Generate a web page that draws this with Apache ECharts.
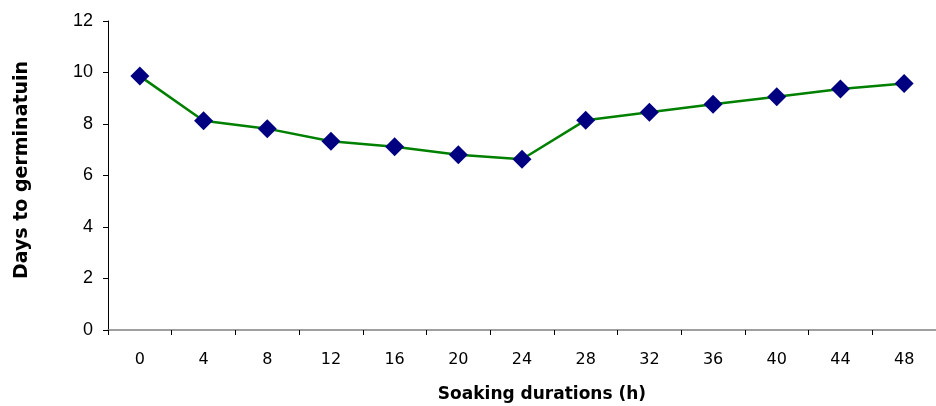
<!DOCTYPE html>
<html><head><meta charset="utf-8">
<script src="https://cdn.jsdelivr.net/npm/echarts@6/dist/echarts.min.js"></script>
<style>html,body{margin:0;padding:0;background:#fff}#c{width:936px;height:406px}</style>
</head><body><div id="c"></div>
<script>
const categories = ['0','4','8','12','16','20','24','28','32','36','40','44','48'];
const daysToGermination = [9.86, 8.13, 7.82, 7.33, 7.12, 6.81, 6.63, 8.15, 8.46, 8.77, 9.06, 9.36, 9.57];
const yTicks = { min: 0, max: 12, interval: 2 };
const xTitle = 'Soaking durations (h)';
const yTitle = 'Days to germinatuin';

const chart = echarts.init(document.getElementById('c'));
chart.setOption({
  animation: false,
  grid: { left: 108, right: -13, top: 21, bottom: 76, containLabel: false },
  xAxis: {
    type: 'category', data: categories, boundaryGap: true,
    axisLine: { lineStyle: { color: '#808080', width: 1.5 } },
    axisTick: { show: true, length: 5, lineStyle: { color: '#000' }, alignWithLabel: false },
    axisLabel: { color: '#000', fontFamily: 'DejaVu Sans', fontSize: 16, margin: 22 },
    splitLine: { show: false }
  },
  yAxis: {
    type: 'value', min: yTicks.min, max: yTicks.max, interval: yTicks.interval,
    axisLine: { show: true, lineStyle: { color: '#000', width: 1 } },
    axisTick: { show: true, length: 5, lineStyle: { color: '#000' } },
    axisLabel: { color: '#000', fontFamily: 'Liberation Sans, Arial', fontSize: 18, margin: 15 },
    splitLine: { show: false }
  },
  graphic: [
    { type: 'text', x: 542, y: 395, style: { text: xTitle, font: 'bold 17px "DejaVu Sans"', fill: '#000', align: 'center', verticalAlign: 'middle' } },
    { type: 'text', x: 22, y: 170, rotation: Math.PI / 2, style: { text: yTitle, font: 'bold 19px "DejaVu Sans"', fill: '#000', align: 'center', verticalAlign: 'middle' } }
  ],
  series: [{
    type: 'line', data: daysToGermination,
    lineStyle: { color: '#008000', width: 2.5 },
    itemStyle: { color: '#000080' },
    symbol: 'diamond', symbolSize: 19, showSymbol: true
  }]
});
</script></body></html>
